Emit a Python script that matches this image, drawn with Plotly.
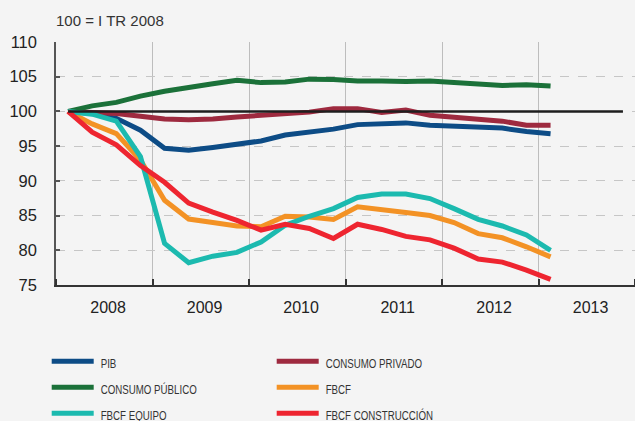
import plotly.graph_objects as go

# Quarterly periods: 2008 Q1 ... 2013 Q1
years = [2008]*4 + [2009]*4 + [2010]*4 + [2011]*4 + [2012]*4 + [2013]
quarters = [1, 2, 3, 4]*5 + [1]

pib = [100, 99.7, 99.0, 97.3, 94.7, 94.4, 94.8, 95.2, 95.75, 96.6, 97.05,
       97.45, 98.1, 98.2, 98.35, 98.0, 97.85, 97.8, 97.6, 97.1, 96.8]
consumo_privado = [100, 99.8, 99.7, 99.3, 98.9, 98.8, 98.9, 99.2, 99.45, 99.7, 99.9,
                   100.4, 100.4, 99.85, 100.2, 99.45, 99.2, 98.8, 98.6, 98.0, 98.0]
consumo_publico = [100, 100.8, 101.3, 102.2, 102.9, 103.5, 104.0, 104.5, 104.15, 104.25, 104.65,
                   104.6, 104.4, 104.4, 104.3, 104.4, 104.15, 103.9, 103.75, 103.85, 103.65]
fbcf = [100, 98.2, 96.8, 93.0, 87.2, 84.5, 84.0, 83.5, 83.4, 84.9, 84.8,
        84.45, 86.25, 85.9, 85.45, 85.0, 84.0, 82.4, 81.8, 80.5, 79.05]
fbcf_equipo = [100, 99.6, 98.6, 93.5, 81.0, 78.2, 79.15, 79.7, 81.2, 83.6, 84.9,
               86.0, 87.6, 88.1, 88.1, 87.45, 86.0, 84.45, 83.5, 82.2, 80.0]
fbcf_construccion = [100, 97.0, 95.2, 92.2, 89.8, 86.8, 85.5, 84.3, 82.9, 83.75, 83.15,
                     81.7, 83.75, 83.0, 82.0, 81.5, 80.3, 78.75, 78.3, 77.15, 75.8]

# reference line: 100 from 2008 Q1 to 2013 Q4
ref_years = [2008, 2013]
ref_quarters = [1, 4]
ref_values = [100, 100]

tick_years = [2008, 2009, 2010, 2011, 2012, 2013]

series = [
    ("PIB", pib, "#0d4c86"),
    ("CONSUMO PRIVADO", consumo_privado, "#9e2a3f"),
    ("CONSUMO PÚBLICO", consumo_publico, "#1b7139"),
    ("FBCF", fbcf, "#f39225"),
    ("FBCF EQUIPO", fbcf_equipo, "#1cbaaf"),
    ("FBCF CONSTRUCCIÓN", fbcf_construccion, "#ee2530"),
]

def qpos(y, q):
    return y + (q - 0.5) / 4.0

x = [qpos(y, q) for y, q in zip(years, quarters)]

fig = go.Figure()
for name, vals, col in series:
    fig.add_trace(go.Scatter(
        x=x, y=vals, mode="lines", name="<span style='font-size:13.5px'>" + name + "</span>",
        line=dict(color=col, width=5), hoverinfo="skip"))

fig.add_trace(go.Scatter(
    x=[qpos(y, q) for y, q in zip(ref_years, ref_quarters)], y=ref_values,
    mode="lines", line=dict(color="#1e1e1e", width=2.5), showlegend=False, hoverinfo="skip"))

bg = "#f4f4f4"
fig.update_layout(
    width=635, height=421,
    paper_bgcolor=bg, plot_bgcolor=bg,
    margin=dict(l=56, r=0, t=42, b=136, autoexpand=False),
    font=dict(family="Liberation Sans, Arial, sans-serif", color="#222"),
    title=dict(text="100 = I TR 2008", x=56/635, xanchor="left", xref="container",
               y=1-21/421, yanchor="middle", yref="container",
               font=dict(size=15, color="#333", family="Liberation Sans, Arial, sans-serif")),
    showlegend=True,
    legend=dict(orientation="h", xref="container", yref="container",
                x=46.7/635, y=1-343.3/421, xanchor="left", yanchor="top",
                entrywidth=180, bgcolor="rgba(0,0,0,0)",
                font=dict(size=17.7, family="Liberation Sans, Arial, sans-serif", color="#333"),
                tracegroupgap=0),
    hovermode=False,
)

fig.update_xaxes(
    range=[2008, 2014],
    tickvals=[y + 0.54 for y in tick_years], ticktext=[str(y) for y in tick_years],
    ticks="", showgrid=False, zeroline=False,
    tickfont=dict(size=16, color="#222"),
    showline=True, linecolor="#333", linewidth=1.5,
    ticklabelstandoff=7,
    minor=dict(tick0=2008, dtick=1, showgrid=True, gridcolor="#bdbdbd", gridwidth=1,
               ticks="inside", ticklen=6, tickcolor="#333", tickwidth=1.5),
)
fig.update_yaxes(
    range=[75, 110], tickvals=[75, 80, 85, 90, 95, 100, 105, 110],
    ticks="inside", ticklen=4, tickcolor="#555", tickwidth=1.5,
    showgrid=True, gridcolor="#c6c6c6", griddash="dash", gridwidth=1,
    zeroline=False, showline=True, linecolor="#555", linewidth=1.5,
    tickfont=dict(size=16.5, color="#222"),
    ticklabelstandoff=14,
)

post = """
document.body.style.margin = '0';
var gd = document.getElementById('{plot_id}');
function condenseLegend() {
  gd.querySelectorAll('.legend .traces').forEach(function(tr) {
    var ln = tr.querySelector('path.js-line');
    if (ln) { ln.setAttribute('d', 'M5,0h42'); }
    var t = tr.querySelector('text.legendtext');
    if (t) {
      var x0 = parseFloat(t.getAttribute('x')) || 40;
      t.setAttribute('transform', 'translate(' + (x0 + 14) + ',0) scale(0.72,1) translate(' + (-x0) + ',0)');
    }
  });
}
condenseLegend();
"""

fig.write_html("out.html", config={"displayModeBar": False}, post_script=post)
